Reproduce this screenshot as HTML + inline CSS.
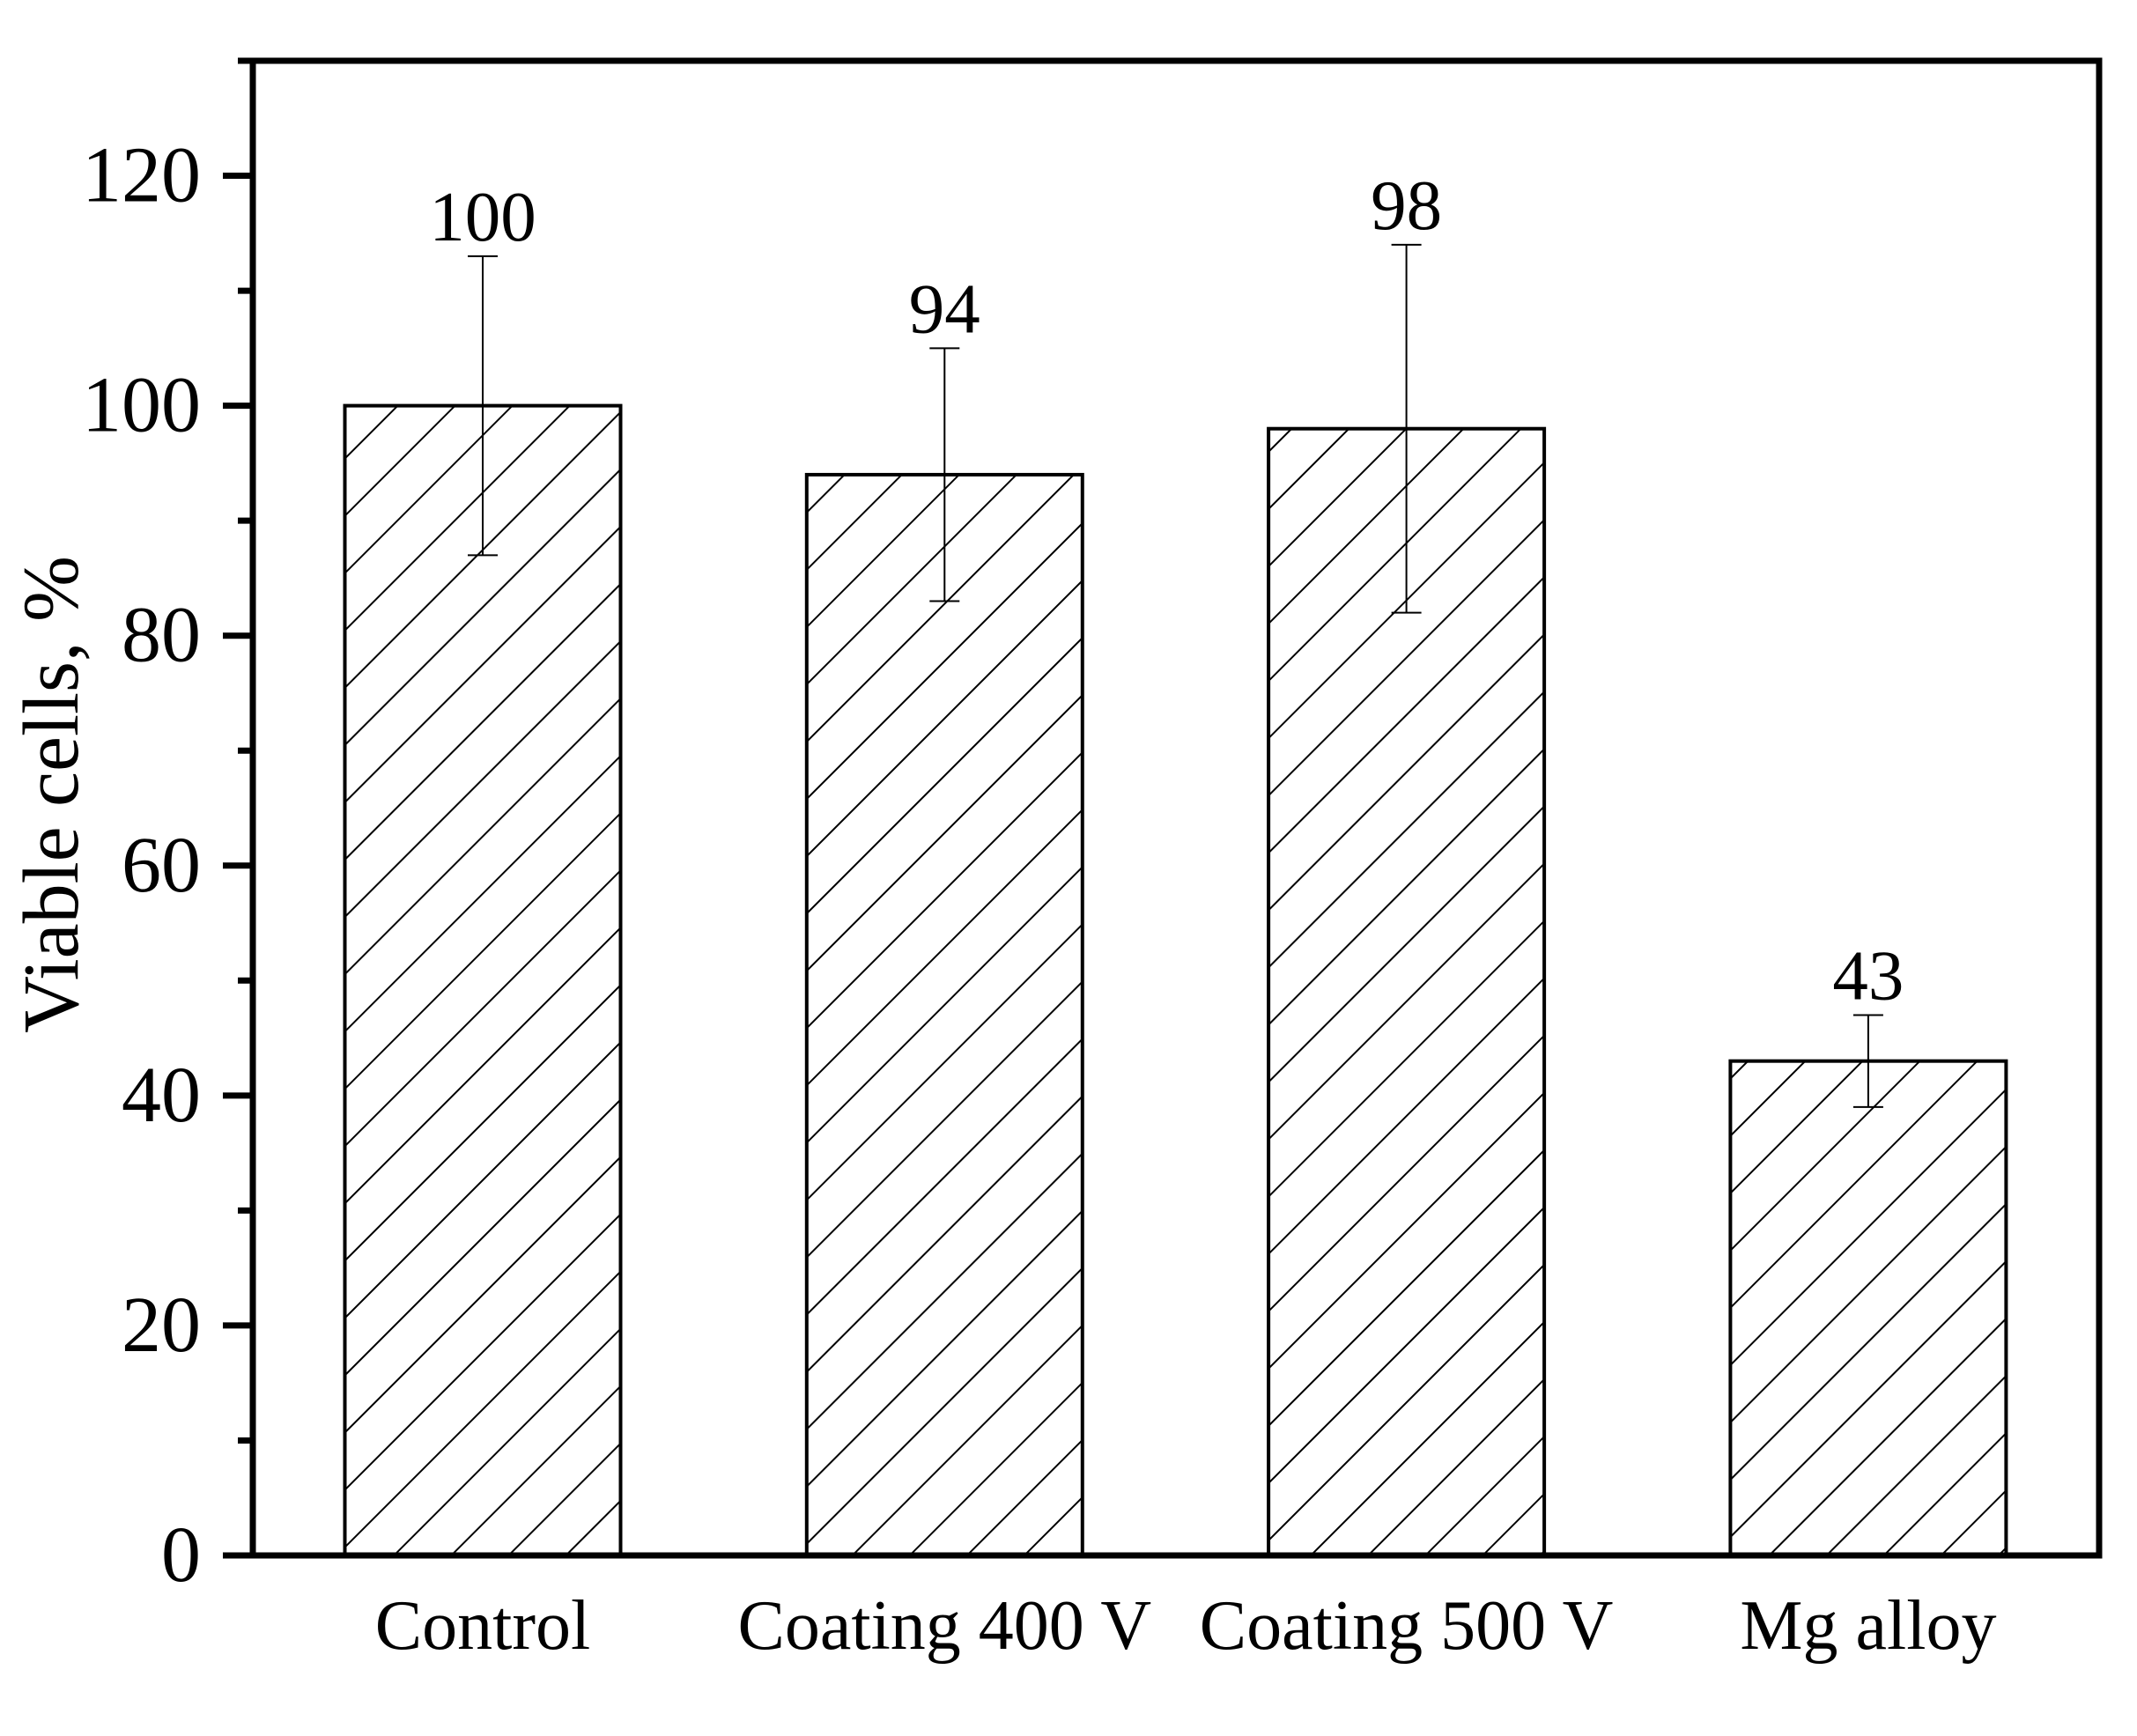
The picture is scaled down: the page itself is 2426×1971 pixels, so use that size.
<!DOCTYPE html>
<html><head><meta charset="utf-8"><style>
html,body{margin:0;padding:0;background:#fff;}
svg{display:block;font-family:"Liberation Serif","Times New Roman",serif;}
</style></head><body>
<svg id="chart" width="2426" height="1971" viewBox="0 0 2426 1971" xmlns="http://www.w3.org/2000/svg">
<defs>
<pattern id="hatch" patternUnits="userSpaceOnUse" width="46" height="46" patternTransform="rotate(45)">
<line x1="0" y1="0" x2="0" y2="46" stroke="#000" stroke-width="4"/>
</pattern>
</defs>
<g id="plot"></g>
<text transform="translate(88,902) rotate(-90)" text-anchor="middle" font-size="90">Viable cells, %</text>
</svg>
<script>
const categories = ["Control", "Coating 400 V", "Coating 500 V", "Mg alloy"];
const values = [100, 94, 98, 43];
const errLow = [87, 83, 82, 39];
const errHigh = [113, 105, 114, 47];
const valueLabels = ["100", "94", "98", "43"];
const yTicks = [0, 20, 40, 60, 80, 100, 120];
const yMinorTicks = [10, 30, 50, 70, 90, 110, 130];

const NS = "http://www.w3.org/2000/svg";
const L = 287, R = 2383, T = 69, B = 1766, yMax = 130;
const y = v => B - (v / yMax) * (B - T);
const x0 = 548, step = 524.3, bw = 313;
const x = i => x0 + i * step;
const g = document.getElementById("plot");
function mk(tag, attrs, parent) {
  const e = document.createElementNS(NS, tag);
  for (const k in attrs) e.setAttribute(k, attrs[k]);
  (parent || g).appendChild(e);
  return e;
}
categories.forEach((c, i) => {
  const bar = mk("rect", {x: x(i) - bw / 2, y: y(values[i]), width: bw, height: B - y(values[i]), fill: "url(#hatch)", stroke: "#000", "stroke-width": 4});
  
  
  const eb = mk("path", {d: `M${x(i)},${y(errLow[i])}V${y(errHigh[i])}M${x(i)-17},${y(errHigh[i])}H${x(i)+17}M${x(i)-17},${y(errLow[i])}H${x(i)+17}`, stroke: "#000", "stroke-width": 2, fill: "none"});
  
  
  const vl = mk("text", {x: x(i), y: y(errHigh[i]) - 18, "text-anchor": "middle", "font-size": 81});
  vl.textContent = valueLabels[i];
  
  
  const cl = mk("text", {x: x(i), y: 1872, "text-anchor": "middle", "font-size": 80});
  cl.textContent = c;
  
  
});
const frame = mk("rect", {x: L, y: T, width: R - L, height: B - T, fill: "none", stroke: "#000", "stroke-width": 7});


yTicks.forEach(v => {
  const t = mk("line", {x1: L - 34, x2: L, y1: y(v), y2: y(v), stroke: "#000", "stroke-width": 7});
  
  
  const lb = mk("text", {x: 228, y: y(v) + 29, "text-anchor": "end", "font-size": 90});
  lb.textContent = String(v);
  
  
});
yMinorTicks.forEach(v => {
  const t = mk("line", {x1: L - 17, x2: L, y1: y(v), y2: y(v), stroke: "#000", "stroke-width": 7});
  
  
});
</script>
</body></html>
